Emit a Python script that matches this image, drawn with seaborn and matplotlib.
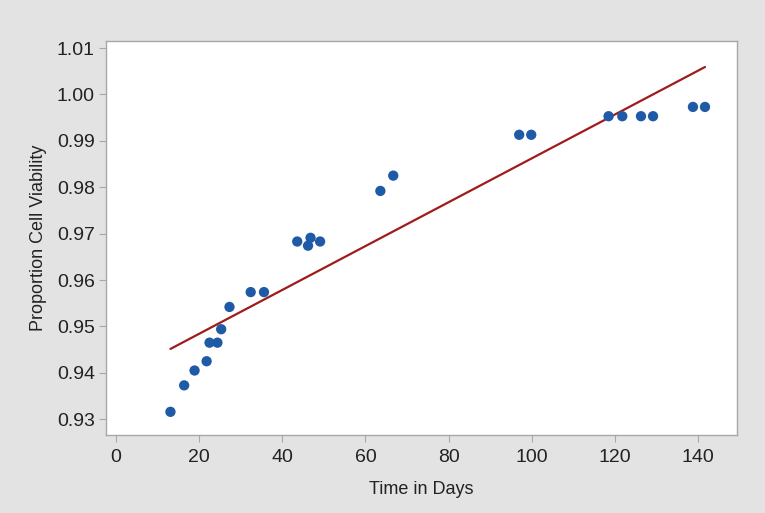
import numpy as np
import pandas as pd
import matplotlib
matplotlib.use("Agg")
import matplotlib.pyplot as plt
import seaborn as sns

# ==========================================
# DATA
# ==========================================

days = [13.1, 16.4, 18.9, 21.8, 22.5, 24.4, 25.3, 27.3, 32.4, 35.6,
        43.6, 46.2, 46.8, 49.1, 63.6, 66.7, 97.0, 99.9,
        118.5, 121.8, 126.3, 129.2, 138.8, 141.7]

viability = [0.9316, 0.9373, 0.9405, 0.9425, 0.9465, 0.9465, 0.9494, 0.9542,
             0.9574, 0.9574, 0.9683, 0.9674, 0.9691, 0.9683, 0.9792, 0.9825,
             0.9913, 0.9913, 0.9953, 0.9953, 0.9953, 0.9953, 0.9973, 0.9973]

x_ticks = [0, 20, 40, 60, 80, 100, 120, 140]
y_ticks = [0.93, 0.94, 0.95, 0.96, 0.97, 0.98, 0.99, 1.00, 1.01]

df = pd.DataFrame({"Time in Days": days, "Proportion Cell Viability": viability})

# ==========================================
# STYLE
# ==========================================

sns.set_style("white")
plt.rcParams["font.family"] = ["Liberation Sans", "DejaVu Sans"]

BG = "#e3e3e3"
FRAME = "#a8a8a8"

fig = plt.figure(figsize=(7.65, 5.13), dpi=100, facecolor=BG)
ax = fig.add_axes([0.1386, 0.152, 0.8248, 0.768])
ax.set_facecolor("white")

# ==========================================
# PLOT
# ==========================================

sns.regplot(
    data=df,
    x="Time in Days",
    y="Proportion Cell Viability",
    ci=None,
    ax=ax,
    scatter_kws={"s": 55, "color": "#1f5aa6", "edgecolor": "none", "alpha": 1, "zorder": 3},
    line_kws={"color": "#a01c1c", "linewidth": 1.6, "zorder": 2},
)

ax.set_xlim(-2.4, 149.4)
ax.set_ylim(0.9266, 1.0115)
ax.set_xticks(x_ticks)
ax.set_yticks(y_ticks)
ax.set_xticklabels([str(t) for t in x_ticks])
ax.set_yticklabels([f"{t:.2f}" for t in y_ticks])

ax.tick_params(axis="both", which="major", bottom=True, left=True,
               direction="out", length=5, width=0.8, color=FRAME,
               labelsize=14, labelcolor="#222222")
ax.tick_params(axis="x", pad=5)
ax.tick_params(axis="y", pad=3)

for spine in ax.spines.values():
    spine.set_color(FRAME)
    spine.set_linewidth(1.0)

ax.set_xlabel("Time in Days", fontsize=13, color="#222222", labelpad=11)
ax.set_ylabel("Proportion Cell Viability", fontsize=13, color="#222222", labelpad=7)

fig.savefig("out.png", dpi=100, facecolor=BG)
plt.close(fig)
